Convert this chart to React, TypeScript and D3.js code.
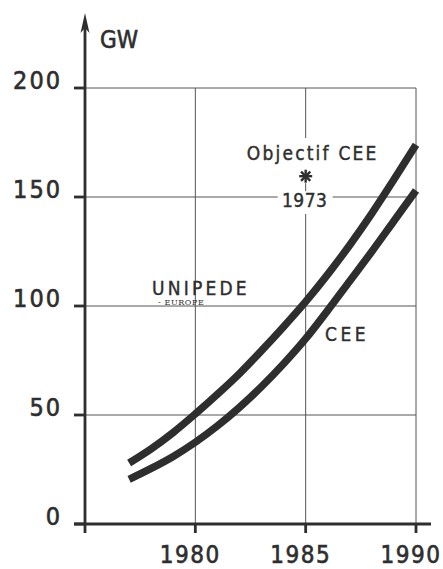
import React, { useEffect, useRef } from 'react';
import * as d3 from 'd3';

// puissance installée (GW)
const years = [1977, 1978, 1979, 1980, 1981, 1982, 1983, 1984, 1985, 1986, 1987, 1988, 1989, 1990];
const unipede = [28, 34.5, 42, 50.5, 59.5, 69, 79.5, 90.5, 102, 114.5, 128, 142.5, 158, 174];
const cee = [20.5, 25.5, 31, 37.5, 45, 53.5, 63, 73.5, 85, 98, 111.5, 125, 139, 153];

const yTicks = [0, 50, 100, 150, 200];
const xTicks = [1980, 1985, 1990];
const objectif = { year: 1985, value: 160, label: 'Objectif CEE', sub: '1973' };

const FONT = "'DejaVu Sans Condensed', 'Liberation Sans Narrow', 'DejaVu Sans', sans-serif";
const INK = '#2e2e2e';

export default function App() {
    const svgRef = useRef<SVGSVGElement>(null);

    useEffect(() => {
        const svg = d3.select(svgRef.current);
        svg.selectAll('*').remove();

        const x = d3.scaleLinear().domain([1975, 1990]).range([85, 416]);
        const y = d3.scaleLinear().domain([0, 200]).range([524, 88]);

        const g = svg.append('g');

        // texte un peu gras, comme le lettrage d'origine
        const label = (sel, w = 0.6) => sel.attr('stroke', INK).attr('stroke-width', w);

        // grille
        const grid = g.append('g').attr('stroke', '#555').attr('stroke-width', 1);
        yTicks.filter((d) => d > 0).forEach((d) => {
            if (d === 150) {
                grid.append('line').attr('x1', x(1975)).attr('x2', x(1985) - 28).attr('y1', y(d)).attr('y2', y(d));
                grid.append('line').attr('x1', x(1985) + 27).attr('x2', x(1990)).attr('y1', y(d)).attr('y2', y(d));
            } else {
                grid.append('line').attr('x1', x(1975)).attr('x2', x(1990)).attr('y1', y(d)).attr('y2', y(d));
            }
        });
        xTicks.forEach((d) => {
            if (d === 1985) {
                grid.append('line').attr('x1', x(d)).attr('x2', x(d)).attr('y1', y(200)).attr('y2', y(200) + 50);
                grid.append('line').attr('x1', x(d)).attr('x2', x(d)).attr('y1', y(objectif.value) + 8).attr('y2', y(objectif.value) + 16);
                grid.append('line').attr('x1', x(d)).attr('x2', x(d)).attr('y1', y(150) + 17).attr('y2', y(0));
            } else {
                grid.append('line').attr('x1', x(d)).attr('x2', x(d)).attr('y1', y(200)).attr('y2', y(0));
            }
        });

        // axes
        const axes = g.append('g').attr('stroke', INK).attr('stroke-width', 2.8);
        axes.append('line').attr('x1', x(1975)).attr('x2', x(1975)).attr('y1', y(0)).attr('y2', 22);
        axes.append('line').attr('x1', x(1975) - 11).attr('x2', x(1990) + 15).attr('y1', y(0)).attr('y2', y(0));
        yTicks.forEach((d) => {
            axes.append('line').attr('x1', x(1975) - 11).attr('x2', x(1975)).attr('y1', y(d)).attr('y2', y(d));
        });
        [1975, ...xTicks].forEach((d) => {
            axes.append('line').attr('x1', x(d)).attr('x2', x(d)).attr('y1', y(0)).attr('y2', y(0) + 9);
        });
        const ax = x(1975);
        g.append('path')
            .attr('d', `M${ax},13 L${ax - 4.5},33 L${ax},28 L${ax + 4.5},33 Z`)
            .attr('fill', INK);

        // libellés des graduations
        g.append('g')
            .selectAll('text')
            .data(yTicks)
            .enter()
            .append('text')
            .attr('x', 62)
            .attr('y', (d) => y(d) + 1)
            .attr('text-anchor', 'end')
            .attr('font-size', 25)
            .attr('letter-spacing', 2)
            .call(label)
            .text((d) => d);
        g.append('g')
            .selectAll('text')
            .data(xTicks)
            .enter()
            .append('text')
            .attr('x', (d) => x(d) - 5)
            .attr('y', 563)
            .attr('text-anchor', 'middle')
            .attr('font-size', 24)
            .attr('letter-spacing', 1.5)
            .call(label)
            .text((d) => d);

        g.append('text').attr('x', 100).attr('y', 48).attr('font-size', 24).call(label).text('GW');

        // courbes
        const line = d3
            .line<number>()
            .x((d, i) => x(years[i]))
            .y((d) => y(d))
            .curve(d3.curveCatmullRom);
        [unipede, cee].forEach((s) => {
            g.append('path')
                .datum(s)
                .attr('fill', 'none')
                .attr('stroke', INK)
                .attr('stroke-width', 7.5)
                .attr('d', line);
        });

        // annotations
        g.append('text')
            .attr('x', x(objectif.year) + 7)
            .attr('y', 160)
            .attr('text-anchor', 'middle')
            .attr('font-size', 19)
            .attr('letter-spacing', 2.2)
            .call(label, 0.4)
            .text(objectif.label);
        const star = g.append('g')
            .attr('transform', `translate(${x(objectif.year)},${y(objectif.value) + 1})`)
            .attr('stroke', INK)
            .attr('stroke-width', 2.4);
        [0, 45, 90, 135].forEach((a) => {
            const r = 6.5;
            const c = Math.cos((a * Math.PI) / 180) * r;
            const s = Math.sin((a * Math.PI) / 180) * r;
            star.append('line').attr('x1', -c).attr('y1', -s).attr('x2', c).attr('y2', s);
        });
        g.append('text')
            .attr('x', x(objectif.year) - 1)
            .attr('y', 207)
            .attr('text-anchor', 'middle')
            .attr('font-size', 19)
            .attr('letter-spacing', 0.5)
            .call(label, 0.4)
            .text(objectif.sub);

        g.append('text')
            .attr('x', 152)
            .attr('y', 295)
            .attr('font-size', 19)
            .attr('letter-spacing', 3.2)
            .call(label, 0.4)
            .text('UNIPEDE');
        g.append('text')
            .attr('x', 158)
            .attr('y', 305)
            .attr('font-family', "'DejaVu Serif', serif")
            .attr('font-size', 8)
            .attr('letter-spacing', 0.6)
            .text('- EUROPE');
        g.append('text')
            .attr('x', 325)
            .attr('y', 341)
            .attr('font-size', 19)
            .attr('letter-spacing', 3.5)
            .call(label, 0.4)
            .text('CEE');
    }, []);

    return (
        <svg
            ref={svgRef}
            width={443}
            height={569}
            style={{ position: 'absolute', left: 0, top: 0, background: '#fff' }}
            fontFamily={FONT}
            fill={INK}
        />
    );
}
